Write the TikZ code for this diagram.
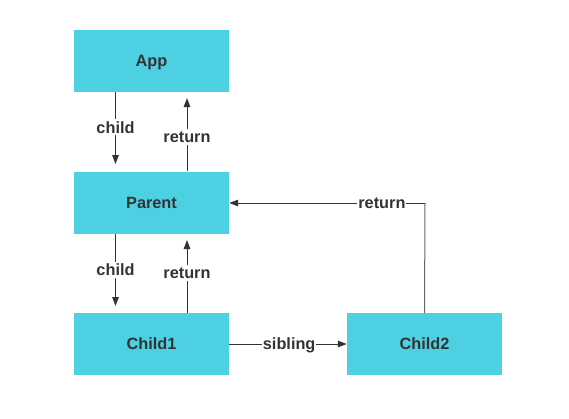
\documentclass[tikz,border=0pt]{standalone}
\usepackage{fontspec}
\setmainfont{Liberation Sans}
\usetikzlibrary{arrows.meta}
\definecolor{boxc}{HTML}{4DD0E1}
\definecolor{txt}{HTML}{333333}
\begin{document}
\begin{tikzpicture}[x=1pt,y=-1pt,
  blk/.style={fill=boxc,draw=none,minimum width=155pt,minimum height=62pt,inner sep=0pt,text height=11.8pt,text depth=0pt,font=\fontsize{16.3}{18}\selectfont\bfseries,text=txt},
  lbl/.style={fill=white,inner xsep=1pt,inner ysep=2pt,text height=11.8pt,text depth=0pt,font=\fontsize{16.3}{18}\selectfont\bfseries,text=txt},
  conn/.style={draw=txt,line width=1pt,-{Triangle[length=9pt,width=6.5pt]}}]
\useasboundingbox (0,0) rectangle (569,418);
\node[blk] (app) at (151.5,61) {App};
\node[blk] (parent) at (151.5,202.5) {Parent};
\node[blk] (c1) at (151.5,344) {Child1};
\node[blk] (c2) at (424.5,344) {Child2};
% App -> Parent child
\coordinate (a1) at (115.5,92);
\coordinate (a2) at (115.5,164);
\draw[conn] (a1) -- (a2) node[lbl,pos=0.49] {child};
\coordinate (b1) at (187,171);
\coordinate (b2) at (187,98);
\draw[conn] (b1) -- (b2) node[lbl,pos=0.47] {return};
% Parent -> Child1
\coordinate (c1a) at (115.5,234);
\coordinate (c1b) at (115.5,306);
\draw[conn] (c1a) -- (c1b) node[lbl,pos=0.5] {child};
\coordinate (d1) at (187,313);
\coordinate (d2) at (187,240);
\draw[conn] (d1) -- (d2) node[lbl,pos=0.55] {return};
% sibling
\draw[conn] (c1.east) -- (c2.west) node[lbl,pos=0.51] {sibling};
% Child2 return
\coordinate (e1) at (425,203);
\draw[draw=txt!75,line width=1pt] (c2.north) -- (e1);
\draw[conn] (e1) -- (parent.east |- e1) node[lbl,pos=0.22] {return};
\end{tikzpicture}
\end{document}
